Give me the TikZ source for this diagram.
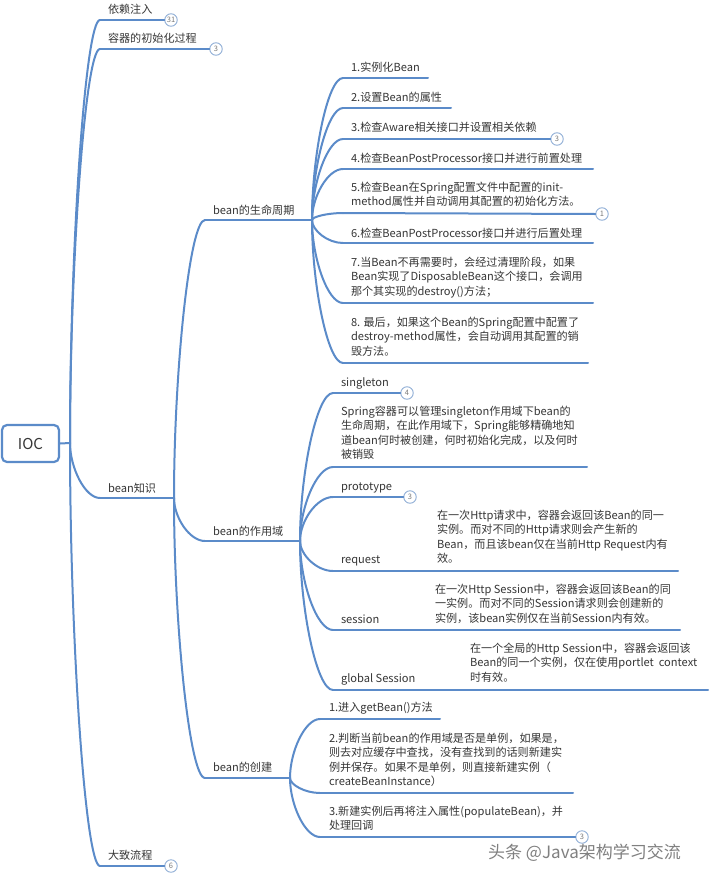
\documentclass[tikz,border=0pt]{standalone}
\usepackage{fontspec}
\setmainfont{Noto Sans CJK SC}
\usetikzlibrary{calc}
\definecolor{lk}{HTML}{5B8BC9}
\definecolor{tx}{HTML}{363636}
\definecolor{bd}{HTML}{8FAED6}
\definecolor{bt}{HTML}{7A7A7A}
\newcommand\mmlink[2]{%
  \draw[link] let \p1=(#1), \p2=(#2) in (\p1) .. controls (\x1,{\y1+0.45*((\y2)-(\y1))}) and ({\x1+0.5*((\x2)-(\x1))},\y2) .. (\p2);}
\begin{document}
\begin{tikzpicture}[x=1pt,y=-1pt,
  link/.style={draw=lk, line width=2pt, line cap=round},
  txt/.style={anchor=north west, inner sep=0pt, outer sep=0pt, align=left, text=tx,
    font=\fontsize{11.1}{14.5}\selectfont, yshift=6pt, execute at begin node={\strut}},
  badge/.style={circle, draw=bd, line width=0.9pt, fill=white, minimum size=12.5pt, inner sep=0pt,
    text=bt, font=\fontsize{7.5}{7.5}\selectfont},
  root/.style={draw=lk, line width=2.2pt, rounded corners=5pt, minimum width=57pt, minimum height=37pt,
    inner sep=0pt, text=tx, font=\fontsize{15}{15}\selectfont}]
\fill[white] (0,0) rectangle (718,881);
\useasboundingbox (0,0) rectangle (718,881);

% ---------- root ----------
\node[root] (ioc) at (30.5,443.5) {IOC};
\coordinate (h0) at (70,443);
\draw[link] (ioc.east) -- (h0);

% ---------- level 1 ----------
\coordinate (sdi) at (100,20);
\node[badge] (bdi) at (171,20) {31};
\node[txt] (tdi) at (108,9) {依赖注入};

\coordinate (srq) at (100,49);
\node[badge] (brq) at (216,49) {3};
\node[txt] (trq) at (108,38) {容器的初始化过程};

\coordinate (sbk) at (100,498);
\coordinate (hbk) at (174,498);
\node[txt] (tbk) at (108,488) {bean知识};

\coordinate (sdz) at (100,866);
\node[badge] (bdz) at (171,866) {6};
\node[txt] (tdz) at (108,855) {大致流程};

\mmlink{h0}{sdi}
\mmlink{h0}{srq}
\mmlink{h0}{sbk}
\mmlink{h0}{sdz}
\draw[link] (sdi) -- (bdi.west);
\draw[link] (srq) -- (brq.west);
\draw[link] (sbk) -- (hbk);
\draw[link] (sdz) -- (bdz.west);

% ---------- level 2 ----------
\coordinate (slc) at (205,220);
\coordinate (hlc) at (312,220);
\node[txt] (tlc) at (213,210) {bean的生命周期};

\coordinate (ssc) at (205,541);
\coordinate (hsc) at (300,541);
\node[txt] (tsc) at (213,531) {bean的作用域};

\coordinate (scr) at (205,778);
\coordinate (hcr) at (290,778);
\node[txt] (tcr) at (213,767) {bean的创建};

\mmlink{hbk}{slc}
\mmlink{hbk}{ssc}
\mmlink{hbk}{scr}
\draw[link] (slc) -- (hlc);
\draw[link] (ssc) -- (hsc);
\draw[link] (scr) -- (hcr);

% ---------- life cycle ----------
\coordinate (l1s) at (343,78);  \coordinate (l1e) at (428,78);
\node[txt] (l1t) at (351,67) {1.实例化Bean};
\coordinate (l2s) at (343,108); \coordinate (l2e) at (451,108);
\node[txt] (l2t) at (351,97) {2.设置Bean的属性};
\coordinate (l3s) at (343,139); \node[badge] (l3b) at (557,139) {3};
\node[txt] (l3t) at (351,127) {3.检查Aware相关接口并设置相关依赖};
\coordinate (l4s) at (343,169); \coordinate (l4e) at (593,169);
\node[txt] (l4t) at (351,158) {4.检查BeanPostProcessor接口并进行前置处理};
\coordinate (l5s) at (343,213); \node[badge] (l5b) at (602,214) {1};
\node[txt] (l5t) at (351,188) {5.检查Bean在Spring配置文件中配置的init-\\method属性并自动调用其配置的初始化方法。};
\coordinate (l6s) at (343,243); \coordinate (l6e) at (593,243);
\node[txt] (l6t) at (351,233) {6.检查BeanPostProcessor接口并进行后置处理};
\coordinate (l7s) at (343,303); \coordinate (l7e) at (593,303);
\node[txt] (l7t) at (351,263) {7.当Bean不再需要时，会经过清理阶段，如果\\Bean实现了DisposableBean这个接口，会调用\\那个其实现的destroy()方法；};
\coordinate (l8s) at (343,363); \coordinate (l8e) at (588,363);
\node[txt] (l8t) at (351,323) {8. 最后，如果这个Bean的Spring配置中配置了\\destroy-method属性，会自动调用其配置的销\\毁方法。};

\foreach \i in {1,...,8} {\mmlink{hlc}{l\i s}}
\draw[link] (l1s) -- (l1e);
\draw[link] (l2s) -- (l2e);
\draw[link] (l3s) -- (l3b.west);
\draw[link] (l4s) -- (l4e);
\draw[link] (l5s) -- (l5b.west);
\draw[link] (l6s) -- (l6e);
\draw[link] (l7s) -- (l7e);
\draw[link] (l8s) -- (l8e);

% ---------- scope ----------
\coordinate (c1s) at (333,393); \node[badge] (c1b) at (407,393) {4};
\node[txt] (c1t) at (341,382) {singleton};
\coordinate (c2s) at (333,467); \coordinate (c2e) at (587,467);
\node[txt] (c2t) at (341,412) {Spring容器可以管理singleton作用域下bean的\\生命周期，在此作用域下，Spring能够精确地知\\道bean何时被创建，何时初始化完成，以及何时\\被销毁};
\coordinate (c3s) at (333,497); \node[badge] (c3b) at (410,497) {3};
\node[txt] (c3t) at (341,486) {prototype};
\coordinate (c4s) at (333,571); \coordinate (c4e) at (678,571);
\node[txt] (c4t) at (341,559) {request};
\node[txt] (c4d) at (437,516) {在一次Http请求中，容器会返回该Bean的同一\\实例。而对不同的Http请求则会产生新的\\Bean，而且该bean仅在当前Http Request内有\\效。};
\coordinate (c5s) at (333,630); \coordinate (c5e) at (680,630);
\node[txt] (c5t) at (341,619) {session};
\node[txt] (c5d) at (435,590) {在一次Http Session中，容器会返回该Bean的同\\一实例。而对不同的Session请求则会创建新的\\实例，该bean实例仅在当前Session内有效。};
\coordinate (c6s) at (333,690); \coordinate (c6e) at (708,690);
\node[txt] (c6t) at (341,678) {global Session};
\node[txt] (c6d) at (470,649) {在一个全局的Http Session中，容器会返回该\\Bean的同一个实例，仅在使用portlet\ \ context\\时有效。};

\foreach \i in {1,...,6} {\mmlink{hsc}{c\i s}}
\draw[link] (c1s) -- (c1b.west);
\draw[link] (c2s) -- (c2e);
\draw[link] (c3s) -- (c3b.west);
\draw[link] (c4s) -- (c4e);
\draw[link] (c5s) -- (c5e);
\draw[link] (c6s) -- (c6e);

% ---------- creation ----------
\coordinate (r1s) at (320,719); \coordinate (r1e) at (440,719);
\node[txt] (r1t) at (329,707) {1.进入getBean()方法};
\coordinate (r2s) at (320,793); \coordinate (r2e) at (573,793);
\node[txt] (r2t) at (329,739) {2.判断当前bean的作用域是否是单例，如果是，\\则去对应缓存中查找，没有查找到的话则新建实\\例并保存。如果不是单例，则直接新建实例（\\createBeanInstance）};
\coordinate (r3s) at (320,837); \node[badge] (r3b) at (582,837) {3};
\node[txt] (r3t) at (329,812) {3.新建实例后再将注入属性(populateBean)，并\\处理回调};

\foreach \i in {1,2,3} {\mmlink{hcr}{r\i s}}
\draw[link] (r1s) -- (r1e);
\draw[link] (r2s) -- (r2e);
\draw[link] (r3s) -- (r3b.west);

% ---------- watermark ----------
\node[anchor=west, inner sep=0pt, text=black!50, font=\fontsize{17}{17}\selectfont] (wm) at (488,853) {头条 @Java架构学习交流};
\end{tikzpicture}
\end{document}
